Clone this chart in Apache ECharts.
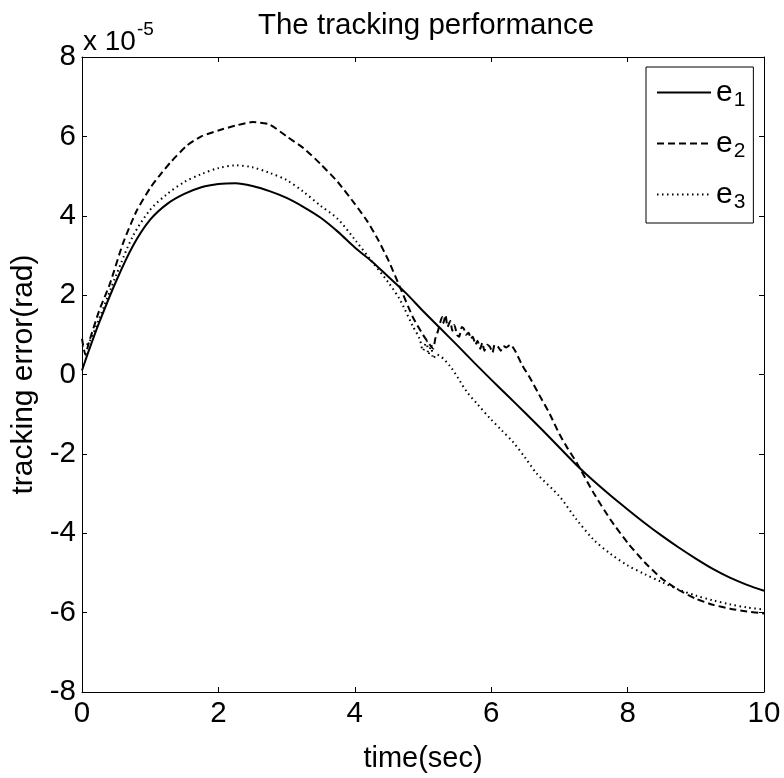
<!DOCTYPE html>
<html>
<head>
<meta charset="utf-8">
<script src="https://cdn.jsdelivr.net/npm/echarts@6/dist/echarts.min.js"></script>
<style>html,body{margin:0;padding:0;background:#fff}#c{width:784px;height:778px}</style>
</head>
<body>
<div id="c"></div>
<script>
// values in units of 1e-5 rad
var e1T = [0,0.1,0.25,0.5,0.75,1.0,1.25,1.5,1.75,2.0,2.25,2.5,2.75,3.0,3.25,3.5,3.75,4.0,4.25,4.5,4.75,5.0,5.25,5.5,5.75,6.0,6.25,6.5,6.75,7.0,7.25,7.5,7.75,8.0,8.25,8.5,8.75,9.0,9.25,9.5,9.75,10];
var e1V = [0.1,0.6,1.3,2.35,3.25,3.9,4.3,4.55,4.72,4.8,4.82,4.75,4.62,4.45,4.22,3.95,3.6,3.2,2.85,2.45,2.05,1.6,1.17,0.74,0.3,-0.13,-0.55,-0.97,-1.4,-1.84,-2.28,-2.68,-3.05,-3.4,-3.74,-4.06,-4.36,-4.64,-4.9,-5.12,-5.3,-5.45];

var e2T = [0,0.05,0.1,0.25,0.41,0.6,0.8,1.0,1.14,1.3,1.54,1.75,2.0,2.25,2.5,2.75,3.0,3.25,3.5,3.75,4.0,4.18,4.34,4.5,4.66,4.85,5.0,5.1,5.15,5.18,5.22,5.25,5.28,5.3,5.33,5.36,5.4,5.43,5.46,5.5,5.53,5.57,5.6,5.63,5.67,5.7,5.73,5.77,5.8,5.84,5.87,5.9,5.94,5.98,6.02,6.05,6.1,6.14,6.18,6.22,6.28,6.35,6.45,6.57,6.7,6.86,7.0,7.11,7.26,7.5,7.75,8.0,8.25,8.5,8.75,9.0,9.25,9.5,9.75,10];
var e2V = [0.9,0.5,0.8,1.6,2.29,3.3,4.12,4.7,5.02,5.35,5.77,6.0,6.15,6.27,6.36,6.3,6.0,5.7,5.3,4.85,4.3,3.87,3.4,2.85,2.21,1.45,1.0,0.75,0.65,0.9,1.1,1.3,1.45,1.3,1.5,1.2,1.35,1.1,1.25,1.0,0.95,1.2,1.15,1.0,1.05,0.9,0.95,0.75,0.85,0.65,0.8,0.6,0.75,0.7,0.55,0.75,0.7,0.6,0.72,0.68,0.75,0.6,0.25,-0.09,-0.5,-1.0,-1.5,-1.83,-2.24,-2.98,-3.66,-4.24,-4.73,-5.14,-5.43,-5.65,-5.8,-5.9,-5.97,-6.02];

var e3T = [0,0.1,0.25,0.5,0.75,1.0,1.25,1.5,1.75,2.0,2.25,2.5,2.75,3.0,3.25,3.5,3.75,4.0,4.25,4.5,4.66,4.85,4.95,5.0,5.05,5.08,5.12,5.15,5.2,5.4,5.64,5.8,5.98,6.15,6.32,6.5,6.67,7.0,7.25,7.5,7.75,8.0,8.25,8.5,8.75,9.0,9.25,9.5,9.75,10];
var e3V = [0.7,0.8,1.4,2.5,3.5,4.15,4.55,4.85,5.05,5.2,5.27,5.22,5.08,4.9,4.6,4.25,3.92,3.4,2.85,2.3,1.89,1.22,0.9,0.6,0.85,0.5,0.75,0.4,0.5,0.2,-0.43,-0.75,-1.1,-1.4,-1.7,-2.1,-2.5,-3.07,-3.65,-4.16,-4.52,-4.81,-5.03,-5.23,-5.42,-5.57,-5.69,-5.79,-5.87,-5.92];

var xTicks = [0,2,4,6,8,10];
var yTicks = [-8,-6,-4,-2,0,2,4,6,8];
var seriesNames = ['e1','e2','e3'];

function pairs(t,v){return t.map(function(x,i){return [x,v[i]];});}

var FONT = 'Liberation Sans, Arial, Helvetica, sans-serif';
var chart = echarts.init(document.getElementById('c'), null, {renderer:'canvas'});
var axisCommon = {
  type:'value',
  axisLine:{show:true,onZero:false,lineStyle:{color:'#000',width:1}},
  axisTick:{show:true,inside:true,length:5,lineStyle:{color:'#000'}},
  splitLine:{show:false}
};
chart.setOption({
  animation:false,
  backgroundColor:'#fff',
  title:{text:'The tracking performance',left:421,top:6,textAlign:'center',
    textStyle:{fontFamily:FONT,fontSize:29.5,fontWeight:'normal',color:'#000'}},
  grid:{left:82,right:20,top:57,bottom:76,show:false},
  legend:{
    orient:'vertical',left:646,top:67,
    data:seriesNames,
    itemWidth:54,itemHeight:14,itemGap:14,
    padding:[7,8,10,10],
    borderColor:'#000',borderWidth:1,backgroundColor:'#fff',
    itemStyle:{opacity:0},
    formatter:function(n){return '{e|e}{s|'+n.slice(1)+'}';},
    textStyle:{fontFamily:FONT,color:'#000',
      rich:{e:{fontSize:30,fontFamily:FONT,color:'#000',lineHeight:37},
            s:{fontSize:21,fontFamily:FONT,color:'#000',padding:[16,0,0,1],lineHeight:37}}}
  },
  xAxis:[
    Object.assign({},axisCommon,{min:0,max:10,interval:2,position:'bottom',
      name:'time(sec)',nameLocation:'middle',nameGap:52,
      nameTextStyle:{fontFamily:FONT,fontSize:29,color:'#000'},
      axisLabel:{fontFamily:FONT,fontSize:29.5,color:'#000',margin:7}}),
    Object.assign({},axisCommon,{min:0,max:10,interval:2,position:'top',axisLabel:{show:false}})
  ],
  yAxis:[
    Object.assign({},axisCommon,{min:-8,max:8,interval:2,position:'left',
      name:'tracking error(rad)',nameLocation:'middle',nameGap:40,
      nameTextStyle:{fontFamily:FONT,fontSize:30,color:'#000'},
      axisLabel:{fontFamily:FONT,fontSize:29.5,color:'#000',margin:6}}),
    Object.assign({},axisCommon,{min:-8,max:8,interval:2,position:'right',axisLabel:{show:false}})
  ],
  graphic:[{
    type:'text',left:83,top:20,
    style:{text:'{a|x 10}{b|-5}',fill:'#000',
      rich:{a:{fontFamily:FONT,fontSize:28,fill:'#000',padding:[14,0,0,0]},
            b:{fontFamily:FONT,fontSize:19,fill:'#000',padding:[0,0,12,1]}}}
  }],
  series:[
    {name:'e1',type:'line',data:pairs(e1T,e1V),symbol:'none',smooth:0.3,
      lineStyle:{color:'#000',width:2,type:'solid'},itemStyle:{color:'#000'}},
    {name:'e2',type:'line',data:pairs(e2T,e2V),symbol:'none',smooth:0.2,
      lineStyle:{color:'#000',width:2,type:[7,4]},itemStyle:{color:'#000'}},
    {name:'e3',type:'line',data:pairs(e3T,e3V),symbol:'none',smooth:0.3,
      lineStyle:{color:'#000',width:2,type:[1.5,3.5]},itemStyle:{color:'#000'}}
  ]
});
</script>
</body>
</html>
